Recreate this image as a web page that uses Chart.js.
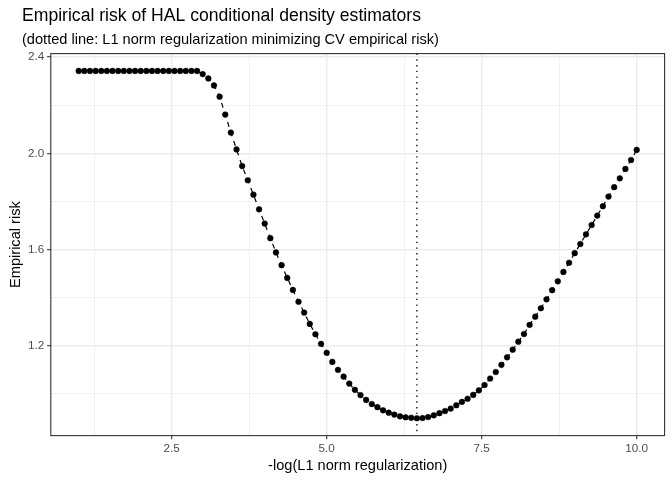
<!DOCTYPE html>
<html>
<head>
<meta charset="utf-8">
<script src="https://cdn.jsdelivr.net/npm/chart.js@4/dist/chart.umd.min.js"></script>
<style>
  html, body { margin: 0; padding: 0; background: #ffffff; }
  #wrap { width: 672px; height: 480px; }
</style>
</head>
<body>
<div id="wrap"><canvas id="c" width="672" height="480"></canvas></div>
<script>
// ---- data ----
const negLogLambda = [
  1, 1.0909, 1.1818, 1.2727, 1.3636, 1.4545, 1.5455, 1.6364, 1.7273, 1.8182, 1.9091,
  2, 2.0909, 2.1818, 2.2727, 2.3636, 2.4545, 2.5455, 2.6364, 2.7273, 2.8182, 2.9091,
  3, 3.0909, 3.1818, 3.2727, 3.3636, 3.4545, 3.5455, 3.6364, 3.7273, 3.8182, 3.9091,
  4, 4.0909, 4.1818, 4.2727, 4.3636, 4.4545, 4.5455, 4.6364, 4.7273, 4.8182, 4.9091,
  5, 5.0909, 5.1818, 5.2727, 5.3636, 5.4545, 5.5455, 5.6364, 5.7273, 5.8182, 5.9091,
  6, 6.0909, 6.1818, 6.2727, 6.3636, 6.4545, 6.5455, 6.6364, 6.7273, 6.8182, 6.9091,
  7, 7.0909, 7.1818, 7.2727, 7.3636, 7.4545, 7.5455, 7.6364, 7.7273, 7.8182, 7.9091,
  8, 8.0909, 8.1818, 8.2727, 8.3636, 8.4545, 8.5455, 8.6364, 8.7273, 8.8182, 8.9091,
  9, 9.0909, 9.1818, 9.2727, 9.3636, 9.4545, 9.5455, 9.6364, 9.7273, 9.8182, 9.9091,
  10
];
const empiricalRisk = [
  2.342, 2.342, 2.342, 2.342, 2.342, 2.342, 2.342, 2.342, 2.342, 2.342, 2.342,
  2.342, 2.342, 2.342, 2.342, 2.342, 2.342, 2.342, 2.342, 2.342, 2.342, 2.342,
  2.329, 2.311, 2.282, 2.235, 2.161, 2.086, 2.016, 1.947, 1.888, 1.828, 1.767,
  1.708, 1.647, 1.588, 1.535, 1.482, 1.432, 1.383, 1.338, 1.291, 1.248, 1.208,
  1.171, 1.133, 1.100, 1.072, 1.043, 1.017, 0.995, 0.975, 0.958, 0.945, 0.932,
  0.922, 0.914, 0.907, 0.903, 0.901, 0.899, 0.900, 0.904, 0.911, 0.920, 0.929,
  0.939, 0.953, 0.967, 0.980, 0.996, 1.015, 1.037, 1.064, 1.091, 1.121, 1.152,
  1.184, 1.217, 1.249, 1.287, 1.321, 1.356, 1.393, 1.431, 1.468, 1.507, 1.545,
  1.585, 1.623, 1.663, 1.702, 1.741, 1.780, 1.820, 1.859, 1.896, 1.935, 1.972,
  2.014
];
const bestNegLogLambda = 6.4545;

const xTickValues = [1.25, 2.5, 3.75, 5, 6.25, 7.5, 8.75, 10];
const xTickLabels = ['', '2.5', '', '5.0', '', '7.5', '', '10.0'];
const yTickValues = [1.0, 1.2, 1.4, 1.6, 1.8, 2.0, 2.2, 2.4];
const yTickLabels = ['', '1.2', '', '1.6', '', '2.0', '', '2.4'];

const titleText = 'Empirical risk of HAL conditional density estimators';
const subtitleText = '(dotted line: L1 norm regularization minimizing CV empirical risk)';
const xTitle = '-log(L1 norm regularization)';
const yTitle = 'Empirical risk';

// ---- styling ----
const FONT = '"Liberation Sans", Arial, Helvetica, sans-serif';
const GRID = '#EBEBEB';
const DARK = '#333333';

const points = negLogLambda.map((x, i) => ({ x: x, y: empiricalRisk[i] }));

const decorPlugin = {
  id: 'decor',
  beforeDatasetsDraw(chart) {
    const ctx = chart.ctx, a = chart.chartArea;
    const px = chart.scales.x.getPixelForValue(bestNegLogLambda);
    ctx.save();
    ctx.strokeStyle = '#000000';
    ctx.lineWidth = 1.3;
    ctx.setLineDash([1.4, 4.3]);
    ctx.lineCap = 'butt';
    ctx.beginPath();
    ctx.moveTo(px, a.top);
    ctx.lineTo(px, a.bottom);
    ctx.stroke();
    ctx.restore();
  },
  afterDatasetsDraw(chart) {
    const ctx = chart.ctx, a = chart.chartArea;
    ctx.save();
    ctx.strokeStyle = DARK;
    ctx.lineWidth = 1.1;
    ctx.strokeRect(a.left, a.top, a.right - a.left, a.bottom - a.top);
    ctx.restore();
  },
  afterDraw(chart) {
    const ctx = chart.ctx, a = chart.chartArea;
    ctx.save();
    ctx.fillStyle = '#000000';
    ctx.textBaseline = 'alphabetic';
    ctx.textAlign = 'left';
    ctx.font = '17.6px ' + FONT;
    ctx.fillText(titleText, 22, 21);
    ctx.font = '14.6px ' + FONT;
    ctx.fillText(subtitleText, 22, 44);
    ctx.textAlign = 'center';
    ctx.fillText(xTitle, (a.left + a.right) / 2, 470);
    ctx.translate(19.5, (a.top + a.bottom) / 2);
    ctx.rotate(-Math.PI / 2);
    ctx.fillText(yTitle, 0, 0);
    ctx.restore();
  }
};

new Chart(document.getElementById('c'), {
  type: 'line',
  data: {
    datasets: [{
      data: points,
      borderColor: '#000000',
      borderWidth: 1.2,
      borderDash: [5, 5],
      pointRadius: 2.85,
      pointBorderWidth: 0.5,
      pointBackgroundColor: '#000000',
      pointBorderColor: '#000000',
      pointHoverRadius: 2.85,
      tension: 0,
      fill: false
    }]
  },
  options: {
    responsive: false,
    animation: false,
    devicePixelRatio: 1,
    layout: { padding: { top: 53.6, left: 7, right: 7.4, bottom: 7 } },
    plugins: {
      legend: { display: false },
      title: { display: false },
      tooltip: { enabled: false }
    },
    scales: {
      x: {
        type: 'linear',
        min: 0.55,
        max: 10.45,
        afterBuildTicks(scale) { scale.ticks = xTickValues.map(v => ({ value: v })); },
        afterFit(scale) { scale.height = 37.4; },
        border: { display: false },
        grid: {
          color: GRID,
          lineWidth: ctx => (xTickLabels[ctx.index] ? 1.4 : 0.7),
          tickLength: 3.7,
          tickColor: ctx => (xTickLabels[ctx.index] ? DARK : 'rgba(0,0,0,0)'),
          tickWidth: 1.1
        },
        ticks: {
          autoSkip: false,
          maxRotation: 0,
          padding: 2.5,
          color: '#4D4D4D',
          font: { family: FONT, size: 11.7 },
          callback: (v, i) => xTickLabels[i]
        }
      },
      y: {
        type: 'linear',
        min: 0.8268,
        max: 2.4142,
        afterBuildTicks(scale) { scale.ticks = yTickValues.map(v => ({ value: v })); },
        afterFit(scale) { scale.width = 43.8; },
        border: { display: false },
        grid: {
          color: GRID,
          lineWidth: ctx => (yTickLabels[ctx.index] ? 1.4 : 0.7),
          tickLength: 3.7,
          tickColor: ctx => (yTickLabels[ctx.index] ? DARK : 'rgba(0,0,0,0)'),
          tickWidth: 1.1
        },
        ticks: {
          autoSkip: false,
          padding: 2.9,
          color: '#4D4D4D',
          font: { family: FONT, size: 11.7 },
          callback: (v, i) => yTickLabels[i]
        }
      }
    }
  },
  plugins: [decorPlugin]
});
</script>
</body>
</html>
